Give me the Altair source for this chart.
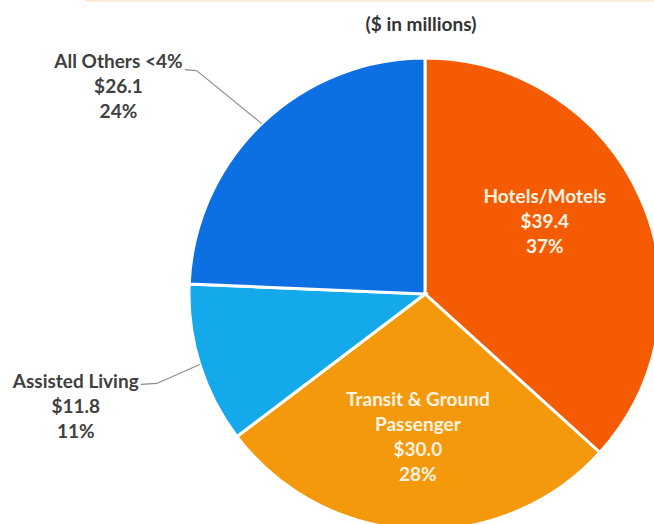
import altair as alt
import pandas as pd

categories = ["Hotels/Motels", "Transit & Ground Passenger", "Assisted Living", "All Others <4%"]
label_names = ["Hotels/Motels", "Transit & Ground\nPassenger", "Assisted Living", "All Others <4%"]
values = [39.4, 30.0, 11.8, 26.1]
value_labels = ["$39.4", "$30.0", "$11.8", "$26.1"]
pct_labels = ["37%", "28%", "11%", "24%"]
colors = ["#F55B02", "#F5990C", "#13A9EA", "#0C6FE2"]
title_text = "($ in millions)"

df = pd.DataFrame({
    "idx": list(range(len(categories))),
    "category": categories,
    "value": values,
    "label": [f"{n}\n{v}\n{p}" for n, v, p in zip(label_names, value_labels, pct_labels)],
})

CX, CY, R = 425, 294, 236
FONT = "Lato"
FS = 19

base = alt.Chart(df).encode(
    theta=alt.Theta("value:Q", stack=True),
    order=alt.Order("idx:Q"),
)

pie = base.mark_arc(radius=R, stroke="white", strokeWidth=3).encode(
    x=alt.value(CX), y=alt.value(CY),
    color=alt.Color("category:N", scale=alt.Scale(domain=categories, range=colors), legend=None),
)

def label_layer(i, radius, dx, dy, color):
    return base.transform_calculate(
        t=f"datum.idx == {i} ? datum.label : ''"
    ).mark_text(
        radius=radius, dx=dx, dy=dy, font=FONT, fontWeight="bold", fontSize=FS,
        lineBreak="\n", lineHeight=25, color=color, align="center", baseline="middle",
    ).encode(x=alt.value(CX), y=alt.value(CY), text="t:N")

labels = [
    label_layer(0, 130, 1, -44, "#FFF3E2"),
    label_layer(1, 140, -1, -34, "#FFF3E2"),
    label_layer(2, 367, 1, -22, "#404040"),
    label_layer(3, 300, -99, -15, "#404040"),
]

lead = alt.Chart(df).transform_joinaggregate(
    total="sum(value)"
).transform_window(
    cum="sum(value)", sort=[alt.SortField("idx")], frame=[None, 0]
).transform_calculate(
    ex=f"{CX} + {R}*sin(2*PI*(datum.cum - datum.value/2)/datum.total)",
    ey=f"{CY} - {R}*cos(2*PI*(datum.cum - datum.value/2)/datum.total)",
).transform_calculate(
    kx="datum.idx == 3 ? datum.ex - 65 : datum.ex - 43",
    ky="datum.idx == 3 ? datum.ey - 53 : datum.ey + 19",
).transform_calculate(
    hx="datum.idx == 3 ? datum.kx - 12 : datum.kx - 16",
    hy="datum.idx == 3 ? datum.ky - 1 : datum.ky + 1",
).transform_filter("datum.idx >= 2")

lead1 = lead.mark_rule(color="#8c8c8c", strokeWidth=1.2).encode(
    x=alt.X("ex:Q", scale=None), y=alt.Y("ey:Q", scale=None),
    x2="kx:Q", y2="ky:Q",
)
lead2 = lead.mark_rule(color="#8c8c8c", strokeWidth=1.2).encode(
    x=alt.X("kx:Q", scale=None), y=alt.Y("ky:Q", scale=None),
    x2="hx:Q", y2="hy:Q",
)

title = alt.Chart(pd.DataFrame({"t": [title_text]})).mark_text(
    font=FONT, fontWeight="bold", fontSize=FS, color="#333333", align="center", baseline="middle"
).encode(x=alt.value(421), y=alt.value(25), text="t:N")

topline = alt.Chart(pd.DataFrame({"a": [0]})).mark_rule(color="#FCE6CF", strokeWidth=3).encode(
    x=alt.value(85), x2=alt.value(654), y=alt.value(0)
)

chart = alt.layer(pie, *labels, lead1, lead2, title, topline).properties(
    width=654, height=524, padding=0, autosize=alt.AutoSizeParams(type="none"),
).configure_view(stroke=None)

chart.save("out.html", embed_options={"renderer": "svg", "actions": False})
